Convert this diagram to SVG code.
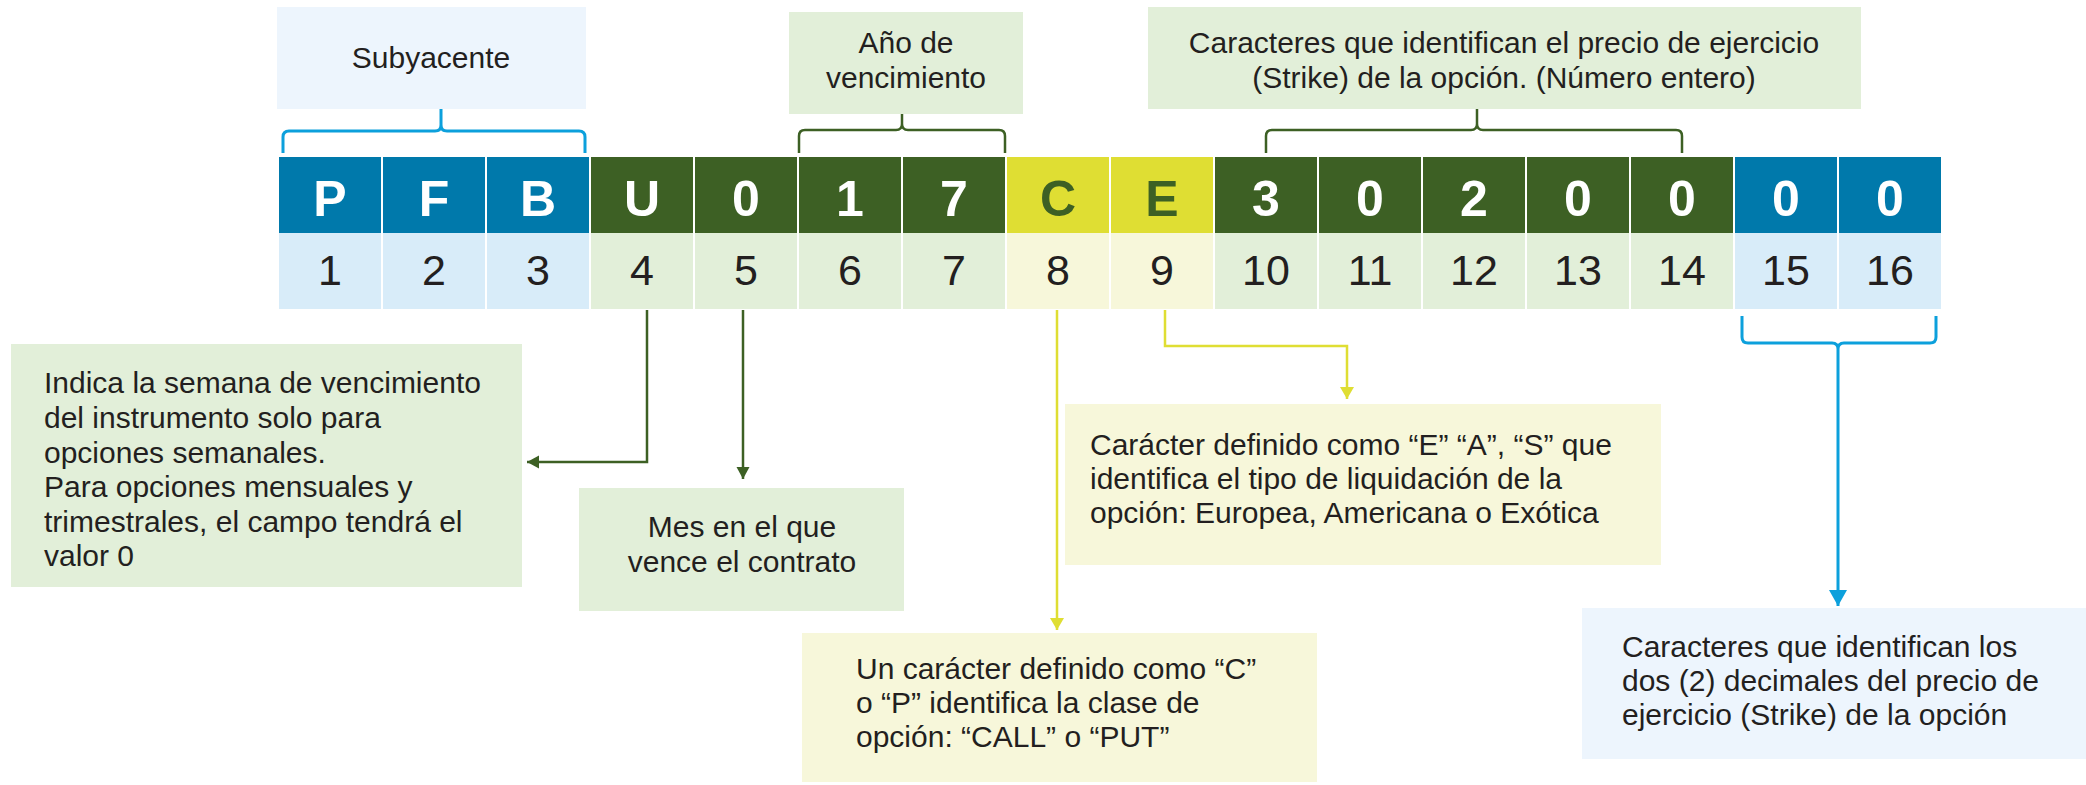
<svg xmlns="http://www.w3.org/2000/svg" width="2086" height="785" viewBox="0 0 2086 785">
<defs>
<style>
.t{font-family:"Liberation Sans",Arial,sans-serif;font-size:30px;fill:#231F20}
.c{text-anchor:middle}
.L{font-family:"Liberation Sans",Arial,sans-serif;font-size:50px;font-weight:bold;text-anchor:middle;fill:#FFFFFF}
.Ly{fill:#3D6024}
.N{font-family:"Liberation Sans",Arial,sans-serif;font-size:43px;text-anchor:middle;fill:#231F20}
.db{fill:#0079AB}.dg{fill:#3D6024}.dy{fill:#DFDE33}
.lb{fill:#D8ECF9}.lg{fill:#E2EFD9}.ly{fill:#F7F7DA}
.bb{fill:#EDF5FD}
.sb{fill:none;stroke:#0CA0DC;stroke-width:3}
.sg{fill:none;stroke:#3D6024;stroke-width:2.5}
.sy{fill:none;stroke:#DFDE33;stroke-width:2.5}
</style>
<marker id="ag" markerUnits="userSpaceOnUse" markerWidth="14" markerHeight="14" refX="12" refY="6.5" orient="auto"><path d="M0,0 L12,6.5 L0,13 Z" fill="#3D6024"/></marker>
<marker id="ay" markerUnits="userSpaceOnUse" markerWidth="14" markerHeight="15" refX="12" refY="7" orient="auto"><path d="M0,0 L12,7 L0,14 Z" fill="#DFDE33"/></marker>
<marker id="ab" markerUnits="userSpaceOnUse" markerWidth="17" markerHeight="19" refX="16" refY="9" orient="auto"><path d="M0,0 L16,9 L0,18 Z" fill="#0CA0DC"/></marker>
</defs>
<rect width="2086" height="785" fill="#FFFFFF"/>

<g id="box-subyacente">
<rect x="277" y="7" width="309" height="102" class="bb"/>
<text class="t c" x="431" y="68">Subyacente</text>
</g>
<g id="box-anio">
<rect x="789" y="12" width="234" height="102" class="lg"/>
<text class="t c" x="906" y="53">Año de</text>
<text class="t c" x="906" y="88">vencimiento</text>
</g>
<g id="box-strike">
<rect x="1148" y="7" width="713" height="102" class="lg"/>
<text class="t c" x="1504" y="53">Caracteres que identifican el precio de ejercicio</text>
<text class="t c" x="1504" y="88">(Strike) de la opción. (Número entero)</text>
</g>

<g id="cell-1"><rect x="279" y="157" width="102" height="76" class="db"/><rect x="279" y="233" width="102" height="76" class="lb"/><text class="L" x="330" y="216">P</text><text class="N" x="330" y="285">1</text></g>
<g id="cell-2"><rect x="383" y="157" width="102" height="76" class="db"/><rect x="383" y="233" width="102" height="76" class="lb"/><text class="L" x="434" y="216">F</text><text class="N" x="434" y="285">2</text></g>
<g id="cell-3"><rect x="487" y="157" width="102" height="76" class="db"/><rect x="487" y="233" width="102" height="76" class="lb"/><text class="L" x="538" y="216">B</text><text class="N" x="538" y="285">3</text></g>
<g id="cell-4"><rect x="591" y="157" width="102" height="76" class="dg"/><rect x="591" y="233" width="102" height="76" class="lg"/><text class="L" x="642" y="216">U</text><text class="N" x="642" y="285">4</text></g>
<g id="cell-5"><rect x="695" y="157" width="102" height="76" class="dg"/><rect x="695" y="233" width="102" height="76" class="lg"/><text class="L" x="746" y="216">0</text><text class="N" x="746" y="285">5</text></g>
<g id="cell-6"><rect x="799" y="157" width="102" height="76" class="dg"/><rect x="799" y="233" width="102" height="76" class="lg"/><text class="L" x="850" y="216">1</text><text class="N" x="850" y="285">6</text></g>
<g id="cell-7"><rect x="903" y="157" width="102" height="76" class="dg"/><rect x="903" y="233" width="102" height="76" class="lg"/><text class="L" x="954" y="216">7</text><text class="N" x="954" y="285">7</text></g>
<g id="cell-8"><rect x="1007" y="157" width="102" height="76" class="dy"/><rect x="1007" y="233" width="102" height="76" class="ly"/><text class="L Ly" x="1058" y="216">C</text><text class="N" x="1058" y="285">8</text></g>
<g id="cell-9"><rect x="1111" y="157" width="102" height="76" class="dy"/><rect x="1111" y="233" width="102" height="76" class="ly"/><text class="L Ly" x="1162" y="216">E</text><text class="N" x="1162" y="285">9</text></g>
<g id="cell-10"><rect x="1215" y="157" width="102" height="76" class="dg"/><rect x="1215" y="233" width="102" height="76" class="lg"/><text class="L" x="1266" y="216">3</text><text class="N" x="1266" y="285">10</text></g>
<g id="cell-11"><rect x="1319" y="157" width="102" height="76" class="dg"/><rect x="1319" y="233" width="102" height="76" class="lg"/><text class="L" x="1370" y="216">0</text><text class="N" x="1370" y="285">11</text></g>
<g id="cell-12"><rect x="1423" y="157" width="102" height="76" class="dg"/><rect x="1423" y="233" width="102" height="76" class="lg"/><text class="L" x="1474" y="216">2</text><text class="N" x="1474" y="285">12</text></g>
<g id="cell-13"><rect x="1527" y="157" width="102" height="76" class="dg"/><rect x="1527" y="233" width="102" height="76" class="lg"/><text class="L" x="1578" y="216">0</text><text class="N" x="1578" y="285">13</text></g>
<g id="cell-14"><rect x="1631" y="157" width="102" height="76" class="dg"/><rect x="1631" y="233" width="102" height="76" class="lg"/><text class="L" x="1682" y="216">0</text><text class="N" x="1682" y="285">14</text></g>
<g id="cell-15"><rect x="1735" y="157" width="102" height="76" class="db"/><rect x="1735" y="233" width="102" height="76" class="lb"/><text class="L" x="1786" y="216">0</text><text class="N" x="1786" y="285">15</text></g>
<g id="cell-16"><rect x="1839" y="157" width="102" height="76" class="db"/><rect x="1839" y="233" width="102" height="76" class="lb"/><text class="L" x="1890" y="216">0</text><text class="N" x="1890" y="285">16</text></g>

<g id="box-semana">
<rect x="11" y="344" width="511" height="243" class="lg"/>
<text class="t" x="44" y="393">Indica la semana de vencimiento</text>
<text class="t" x="44" y="428">del instrumento solo para</text>
<text class="t" x="44" y="463">opciones semanales.</text>
<text class="t" x="44" y="497">Para opciones mensuales y</text>
<text class="t" x="44" y="532">trimestrales, el campo tendrá el</text>
<text class="t" x="44" y="566">valor 0</text>
</g>
<g id="box-mes">
<rect x="579" y="488" width="325" height="123" class="lg"/>
<text class="t c" x="742" y="537">Mes en el que</text>
<text class="t c" x="742" y="572">vence el contrato</text>
</g>
<g id="box-liquidacion">
<rect x="1065" y="404" width="596" height="161" class="ly"/>
<text class="t" x="1090" y="455">Carácter definido como “E” “A”, “S” que</text>
<text class="t" x="1090" y="489">identifica el tipo de liquidación de la</text>
<text class="t" x="1090" y="523">opción: Europea, Americana o Exótica</text>
</g>
<g id="box-clase">
<rect x="802" y="633" width="515" height="149" class="ly"/>
<text class="t" x="856" y="679">Un carácter definido como “C”</text>
<text class="t" x="856" y="713">o “P” identifica la clase de</text>
<text class="t" x="856" y="747">opción: “CALL” o “PUT”</text>
</g>
<g id="box-decimales">
<rect x="1582" y="608" width="504" height="151" class="bb"/>
<text class="t" x="1622" y="657">Caracteres que identifican los</text>
<text class="t" x="1622" y="691">dos (2) decimales del precio de</text>
<text class="t" x="1622" y="725">ejercicio (Strike) de la opción</text>
</g>

<g id="connectors">
<path class="sb" d="M283,153 V137 Q283,131 289,131 H435 Q441,131 441,125 V109 M441,125 Q441,131 447,131 H579 Q585,131 585,137 V153"/>
<path class="sg" d="M799,153 V136 Q799,130 805,130 H896 Q902,130 902,124 V114 M902,124 Q902,130 908,130 H999 Q1005,130 1005,136 V153"/>
<path class="sg" d="M1266,153 V136 Q1266,130 1272,130 H1471 Q1477,130 1477,124 V109 M1477,124 Q1477,130 1483,130 H1676 Q1682,130 1682,136 V153"/>
<path class="sg" marker-end="url(#ag)" d="M647,310 V462 H527"/>
<path class="sg" marker-end="url(#ag)" d="M743,310 V479"/>
<path class="sy" marker-end="url(#ay)" d="M1057,310 V630"/>
<path class="sy" marker-end="url(#ay)" d="M1165,310 V346 H1347 V399"/>
<path class="sb" d="M1742,316 V337 Q1742,343 1748,343 H1832 Q1838,343 1838,349 M1838,349 Q1838,343 1844,343 H1930 Q1936,343 1936,337 V316"/>
<path class="sb" marker-end="url(#ab)" d="M1838,349 V606"/>
</g>
</svg>
